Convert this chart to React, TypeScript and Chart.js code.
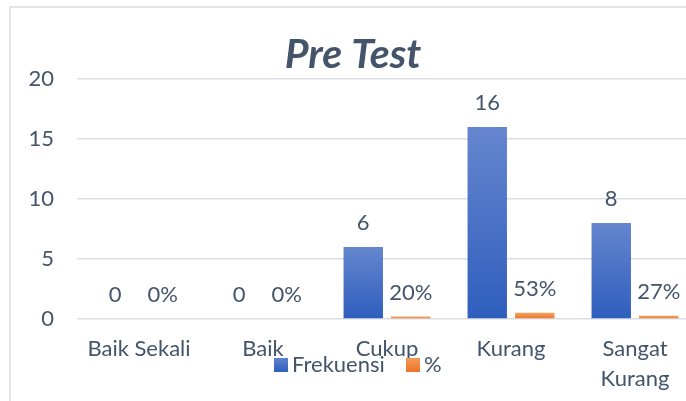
import React, { useEffect, useRef } from "react";
import { Chart, registerables } from "chart.js";
Chart.register(...registerables);

const titleText = "Pre Test";
const categories: (string | string[])[] = ["Baik Sekali", "Baik", "Cukup", "Kurang", ["Sangat", "Kurang"]];
const seriesNames = ["Frekuensi", "%"];
const frekuensi = [0, 0, 6, 16, 8];
const persen = [0, 0, 0.2, 0.53, 0.27];
const persenLabels = ["0%", "0%", "20%", "53%", "27%"];
const yMin = 0;
const yMax = 20;
const yStep = 5;

const FONT = "Lato, 'Noto Sans', sans-serif";
const TEXT = "#44546A";
const GRID = "#D9DDE3";
const LABEL_SIZE = 22;

function gradientFill(top: string, bottom: string, fallback: string) {
  return (c: any) => {
    const chart = c.chart;
    const ys = chart.scales && chart.scales.y;
    if (!ys || !chart.chartArea || typeof c.raw !== "number") return fallback;
    const t = ys.getPixelForValue(c.raw);
    const b = ys.getPixelForValue(0);
    if (!(b - t > 1)) return fallback;
    const g = chart.ctx.createLinearGradient(0, t, 0, b);
    g.addColorStop(0, top);
    g.addColorStop(1, bottom);
    return g;
  };
}

const frameplugin = {
  id: "frame",
  beforeDraw(chart: any) {
    const ctx = chart.ctx;
    ctx.save();
    ctx.fillStyle = "#ffffff";
    ctx.fillRect(0, 0, chart.width, chart.height);
    ctx.strokeStyle = GRID;
    ctx.lineWidth = 1.5;
    ctx.beginPath();
    ctx.moveTo(10, chart.height + 5);
    ctx.lineTo(10, 7);
    ctx.lineTo(chart.width + 5, 7);
    ctx.stroke();
    ctx.restore();
  },
};

const labelPlugin = {
  id: "valueLabels",
  afterDatasetsDraw(chart: any) {
    const ctx = chart.ctx;
    ctx.save();
    ctx.font = `${LABEL_SIZE}px ${FONT}`;
    ctx.fillStyle = TEXT;
    ctx.textAlign = "center";
    ctx.textBaseline = "middle";
    chart.data.datasets.forEach((ds: any, di: number) => {
      const meta = chart.getDatasetMeta(di);
      meta.data.forEach((el: any, i: number) => {
        const txt = di === 0 ? String(ds.data[i]) : persenLabels[i];
        ctx.fillText(txt, el.x, el.y - 24);
      });
    });
    ctx.restore();
  },
};

const decorPlugin = {
  id: "decor",
  afterDraw(chart: any) {
    const ctx = chart.ctx;
    ctx.save();
    // title
    ctx.font = `italic bold 41px ${FONT}`;
    ctx.fillStyle = TEXT;
    ctx.textAlign = "center";
    ctx.textBaseline = "alphabetic";
    ctx.fillText(titleText, 353, 68);
    // legend
    const items = [
      { name: seriesNames[0], x: 274, c1: "#5E82CC", c2: "#2F5FBE" },
      { name: seriesNames[1], x: 406, c1: "#F39A57", c2: "#EC7428" },
    ];
    ctx.font = `${LABEL_SIZE}px ${FONT}`;
    ctx.textAlign = "left";
    ctx.textBaseline = "middle";
    items.forEach((it) => {
      const g = ctx.createLinearGradient(0, 358, 0, 372);
      g.addColorStop(0, it.c1);
      g.addColorStop(1, it.c2);
      ctx.fillStyle = g;
      ctx.fillRect(it.x, 358, 14, 14);
      ctx.fillStyle = TEXT;
      ctx.fillText(it.name, it.x + 18, 365);
    });
    ctx.restore();
  },
};

export default function App() {
  const ref = useRef<HTMLCanvasElement | null>(null);
  useEffect(() => {
    if (!ref.current) return;
    const chart = new Chart(ref.current, {
      type: "bar",
      data: {
        labels: categories as any,
        datasets: [
          {
            label: seriesNames[0],
            data: frekuensi,
            backgroundColor: gradientFill("#6586CE", "#2E5EBD", "#4472C4"),
            categoryPercentage: 0.766,
            barPercentage: 0.83,
          },
          {
            label: seriesNames[1],
            data: persen,
            backgroundColor: gradientFill("#F5A264", "#EC7428", "#ED7D31"),
            categoryPercentage: 0.766,
            barPercentage: 0.83,
          },
        ],
      },
      options: {
        responsive: false,
        animation: false,
        layout: { padding: { top: 79, right: 3, left: 0, bottom: 0 } },
        plugins: {
          legend: { display: false },
          title: { display: false },
          tooltip: { enabled: false },
        },
        scales: {
          x: {
            grid: { display: false, drawTicks: false },
            border: { display: false },
            ticks: {
              color: TEXT,
              font: { family: FONT, size: LABEL_SIZE, lineHeight: 1.36 },
              padding: 15,
              maxRotation: 0,
              autoSkip: false,
            },
            afterFit: (s: any) => {
              s.height = 82;
            },
          },
          y: {
            min: yMin,
            max: yMax,
            ticks: {
              stepSize: yStep,
              color: TEXT,
              font: { family: FONT, size: LABEL_SIZE },
              padding: 23,
            },
            grid: { color: GRID, lineWidth: 1.5, drawTicks: false },
            border: { display: false },
            afterFit: (s: any) => {
              s.width = 77;
            },
          },
        },
      },
      plugins: [frameplugin, labelPlugin, decorPlugin],
    });
    return () => chart.destroy();
  }, []);
  return (
    <div
      style={{
        position: "absolute",
        left: 0,
        top: 0,
        width: 686,
        height: 401,
        overflow: "hidden",
        background: "#fff",
      }}
    >
      <canvas
        ref={ref}
        width={700}
        height={401}
        style={{ position: "absolute", left: 0, top: 0 }}
      />
    </div>
  );
}
